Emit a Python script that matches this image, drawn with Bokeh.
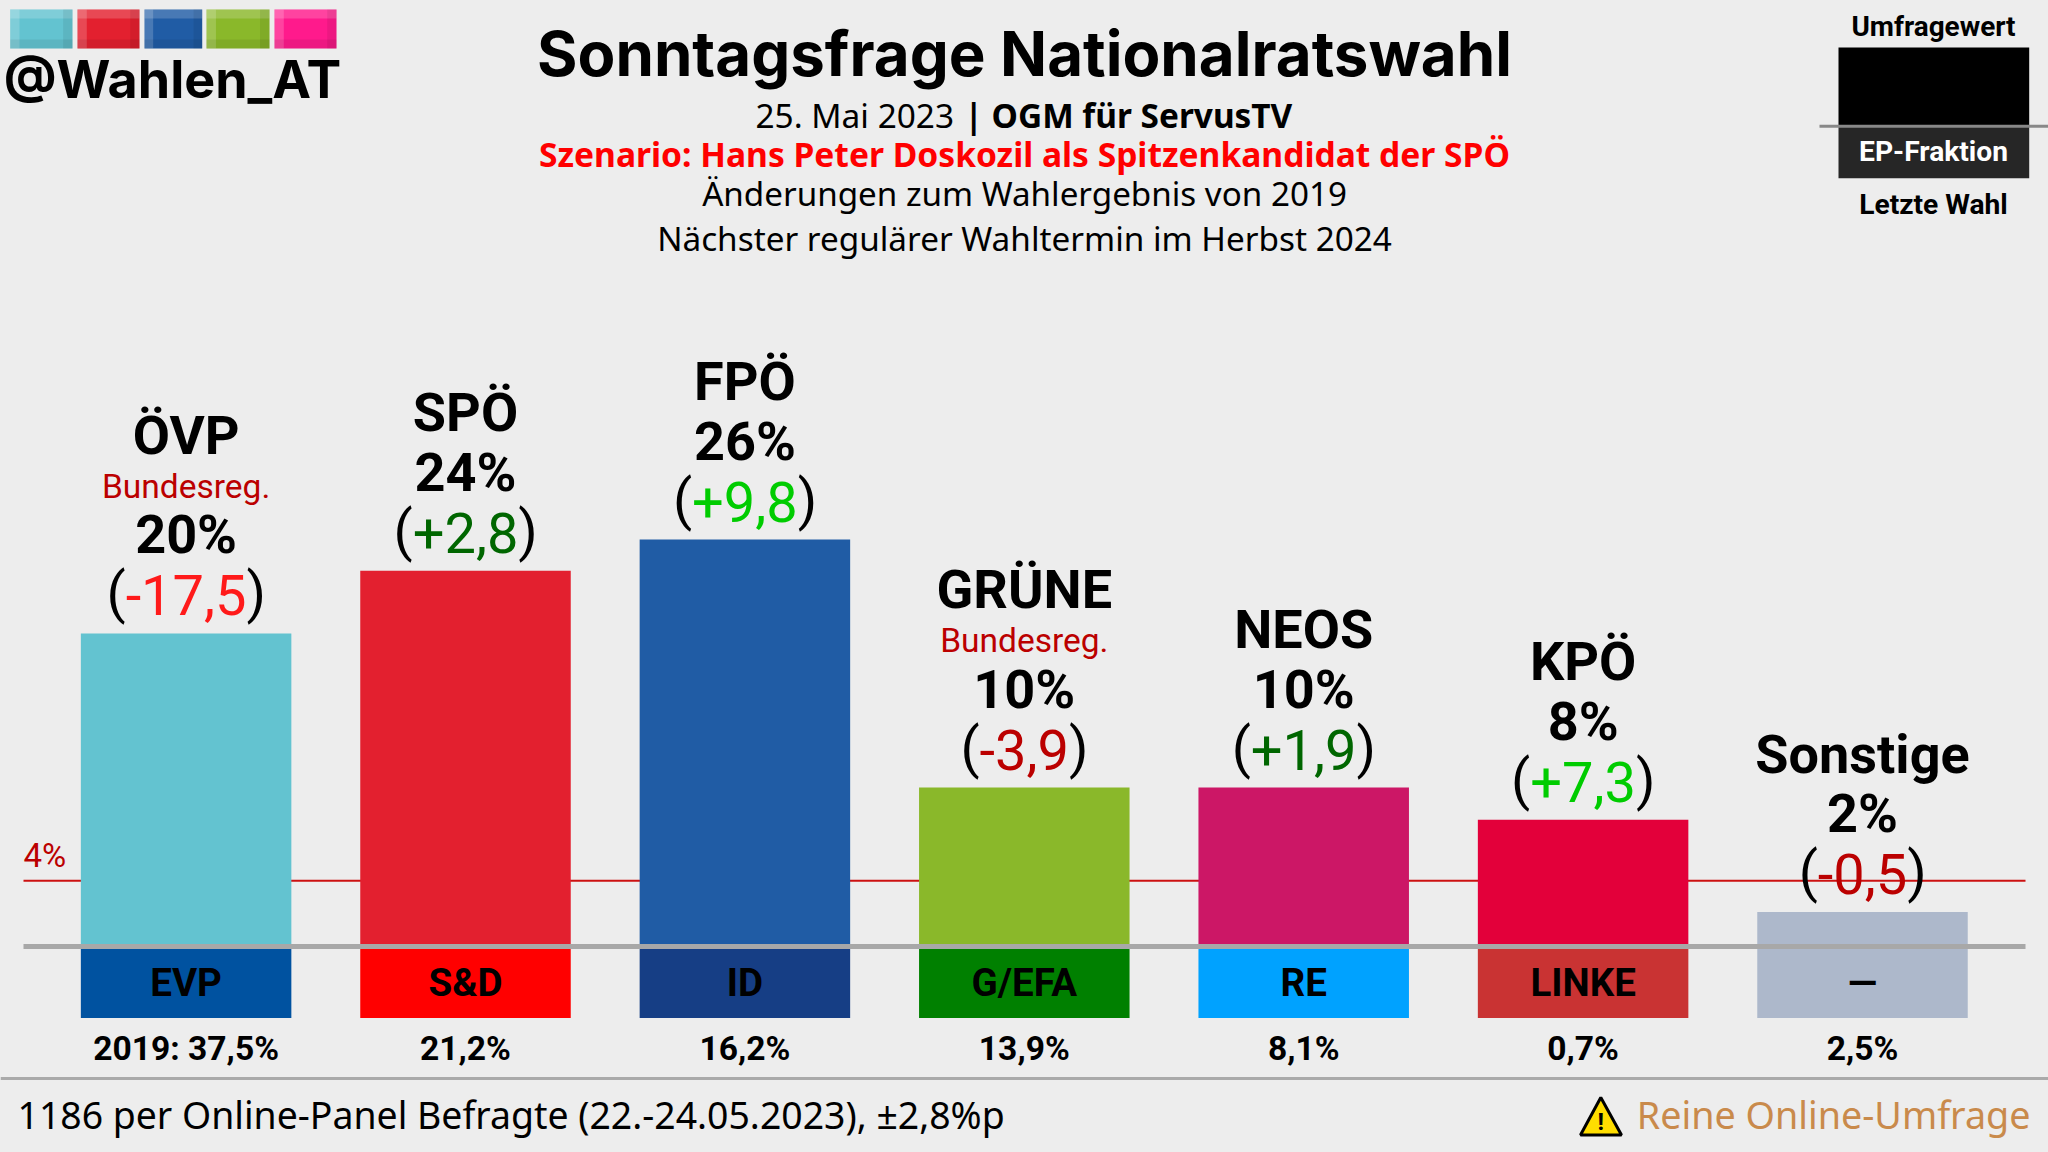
from bokeh.core.properties import value
from bokeh.embed import file_html
from bokeh.models import Range1d
from bokeh.plotting import figure
from bokeh.resources import INLINE

parties = ["ÖVP", "SPÖ", "FPÖ", "GRÜNE", "NEOS", "KPÖ", "Sonstige"]
poll_labels = ["20%", "24%", "26%", "10%", "10%", "8%", "2%"]
bar_values = [20.1, 24.1, 26.1, 10.25, 10.25, 8.2, 2.3]
changes = ["-17,5", "+2,8", "+9,8", "-3,9", "+1,9", "+7,3", "-0,5"]
change_colors = ["#ff1a1a", "#006600", "#00cc00", "#bb0000", "#006600", "#00cc00", "#bb0000"]
in_government = [True, False, False, True, False, False, False]
bar_colors = ["#63c3d0", "#e3202f", "#205ca5", "#8ab82a", "#cc1766", "#e3003a", "#adb8cb"]
ep_groups = ["EVP", "S&D", "ID", "G/EFA", "RE", "LINKE", "—"]
ep_colors = ["#0052a0", "#ff0000", "#163e85", "#008000", "#00a2ff", "#c93333", "#adb8cb"]
last_election = ["2019: 37,5%", "21,2%", "16,2%", "13,9%", "8,1%", "0,7%", "2,5%"]
threshold_pct = 4.3
band_depth_pct = -4.47

BG = "#ededed"
px0, py0 = 0, 0
W, H = 2048, 1152
cx0, step = 185.6, 279.4
y_zero, y_scale = 947.5, 15.65

p = figure(width=W, height=H, output_backend="svg", toolbar_location=None,
           x_range=Range1d((px0 - cx0) / step, (2048 - cx0) / step),
           y_range=Range1d((y_zero - 1152) / y_scale, (y_zero - py0) / y_scale),
           x_axis_location=None, y_axis_location=None, min_border=0,
           background_fill_color=BG, border_fill_color=BG, outline_line_color=None)
p.grid.visible = False
p.extra_x_ranges["px"] = Range1d(px0, 2048)
p.extra_y_ranges["px"] = Range1d(1152, py0)
PX = dict(x_range_name="px", y_range_name="px")

idx = list(range(len(parties)))
bw = 210.5 / step

ROBOTO, NOTO, HEAD = value("Roboto"), value("Noto Sans"), value("Inter")


def ptext(x, y, s, size, font=NOTO, style="normal", color="black", align="center"):
    p.text([x], [y], [s], text_font=font, text_font_size=f"{size}px", text_font_style=style,
           text_color=color, text_align=align, text_baseline="middle", **PX)


# threshold line behind the bars
p.segment([23], [threshold_pct], [2025], [threshold_pct], line_color="#cc1111", line_width=2,
          x_range_name="px")
p.vbar(x=idx, width=bw, bottom=0, top=bar_values, fill_color=bar_colors, line_color=None)
p.vbar(x=idx, width=bw, bottom=band_depth_pct, top=0, fill_color=ep_colors, line_color=None)
p.segment([23], [0.1], [2025], [0.1], line_color="#a8a8a8", line_width=5, x_range_name="px")

# stacked labels above the bars
CHAR = {"+": .567, "-": .276, ",": .196}


def cw(s):
    return sum(CHAR.get(c, .5615) for c in s)


CHG = 56
for i in idx:
    gov = in_government[i]
    y = bar_values[i]
    p.text([i], [y], [changes[i]], text_font=ROBOTO, text_font_size=f"{CHG}px", text_color=change_colors[i],
           text_align="center", text_baseline="middle", y_offset=-38)
    half = cw(changes[i]) * CHG / 2
    p.text([i], [y], ["("], text_font=ROBOTO, text_font_size=f"{CHG}px", text_color="black",
           text_align="right", text_baseline="middle", y_offset=-40, x_offset=-half)
    p.text([i], [y], [")"], text_font=ROBOTO, text_font_size=f"{CHG}px", text_color="black",
           text_align="left", text_baseline="middle", y_offset=-40, x_offset=half)
    p.text([i], [y], [poll_labels[i]], text_font=ROBOTO, text_font_size="54px", text_font_style="bold",
           text_align="center", text_baseline="middle", y_offset=-98.5)
    if gov:
        p.text([i], [y], ["Bundesreg."], text_font=ROBOTO, text_font_size="33.5px", text_color="#bb0000",
               text_align="center", text_baseline="middle", y_offset=-147)
    p.text([i], [y], [parties[i]], text_font=ROBOTO, text_font_size="54px", text_font_style="bold",
           text_align="center", text_baseline="middle", y_offset=-198 if gov else -158)

# below the baseline
p.text(idx, [band_depth_pct / 2] * 7, ep_groups, text_font=ROBOTO, text_font_size="38.5px",
       text_font_style="bold", text_align="center", text_baseline="middle", y_offset=0)
p.text(idx, [band_depth_pct] * 7, last_election, text_font=ROBOTO, text_font_size="33.6px",
       text_font_style="bold", text_align="center", text_baseline="middle", y_offset=31)
ptext(23, 855, "4%", 33, ROBOTO, color="#bb0000", align="left")

# header
ptext(1024, 53, "Sonntagsfrage Nationalratswahl", 61.8, HEAD, "bold")
ptext(755, 114, "25. Mai 2023", 33.4, NOTO, align="left")
ptext(964, 114, "| OGM für ServusTV", 33.4, NOTO, "bold", align="left")
ptext(1024, 153, "Szenario: Hans Peter Doskozil als Spitzenkandidat der SPÖ", 33.6, NOTO, "bold", "#ff0000")
ptext(1024, 193, "Änderungen zum Wahlergebnis von 2019", 33.2, NOTO)
ptext(1024, 237, "Nächster regulärer Wahltermin im Herbst 2024", 33.3, NOTO)

# logo
logo = [(9.7, 72, "#63c3d0"), (77, 139, "#e3202f"), (144, 201.7, "#205ca5"),
        (206, 269, "#8ab82a"), (274, 336, "#ff1a8c")]
for a, b, c in logo:
    w = b - a
    p.quad([a], [b], [9], [48], fill_color=c, line_color=None, **PX)
    p.quad([a], [a + w * .15], [9], [48], fill_color="white", fill_alpha=.18, line_color=None, **PX)
    p.quad([a], [b], [9], [18], fill_color="white", fill_alpha=.18, line_color=None, **PX)
    p.quad([b - w * .15], [b], [9], [48], fill_color="black", fill_alpha=.07, line_color=None, **PX)
    p.quad([a], [b], [39], [48], fill_color="black", fill_alpha=.07, line_color=None, **PX)
ptext(172, 79, "@Wahlen_AT", 52, HEAD, "bold")

# legend
p.quad([1838], [2028.7], [47], [125.7], fill_color="black", line_color=None, **PX)
p.quad([1838], [2028.7], [125.7], [177.7], fill_color="#262626", line_color=None, **PX)
p.segment([1819], [125.7], [2048], [125.7], line_color="#888888", line_width=3, **PX)
ptext(1933, 26, "Umfragewert", 27.9, ROBOTO, "bold")
ptext(1933, 151, "EP-Fraktion", 28.2, ROBOTO, "bold", "white")
ptext(1933, 204, "Letzte Wahl", 28.2, ROBOTO, "bold")

# footer
p.segment([0], [1078], [2048], [1078], line_color="#aaaaaa", line_width=3, **PX)
ptext(17, 1114, "1186 per Online-Panel Befragte (22.-24.05.2023), ±2,8%p", 37.4, NOTO, align="left")
ptext(2030, 1114, "Reine Online-Umfrage", 37.7, NOTO, color="#c98a4b", align="right")
p.patch([1600.3, 1621, 1580], [1097, 1134.5, 1134.5], fill_color="#ffdd00", line_color="black", line_width=3, **PX)
ptext(1600.3, 1121, "!", 24, ROBOTO, "bold")

TEMPLATE = """{% block postamble %}<style>html,body{background:#ededed;overflow:hidden;margin:0;padding:0}</style>{% endblock %}
"""
open("out.html", "w").write(file_html(p, INLINE, template=TEMPLATE))
